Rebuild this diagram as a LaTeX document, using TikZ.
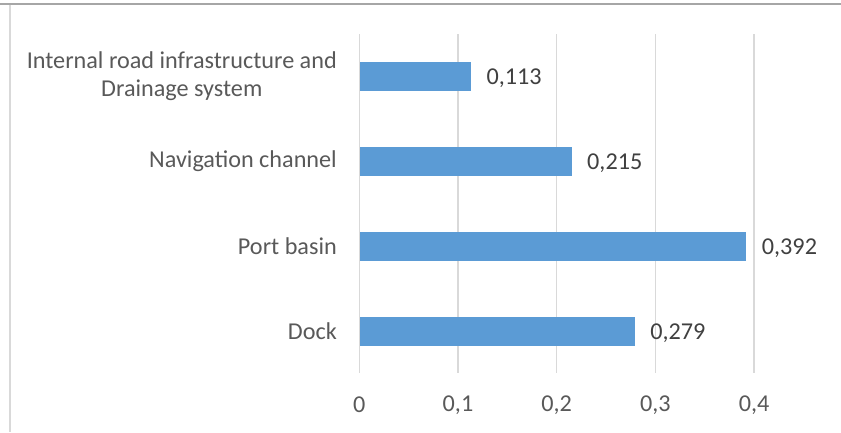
\documentclass[tikz,border=0pt]{standalone}
\usepackage{fontspec}
\setmainfont{Carlito}
\definecolor{barblue}{HTML}{5B9BD5}
\definecolor{gridgray}{HTML}{D9D9D9}
\definecolor{labgray}{HTML}{595959}
\definecolor{valgray}{HTML}{404040}
\definecolor{framegray}{HTML}{A6A6A6}
\begin{document}
\begin{tikzpicture}[x=1pt,y=-1pt,
  txt/.style={inner sep=0pt,font=\fontsize{24.2}{28}\selectfont},
  catlabel/.style={txt,text=labgray,anchor=east,align=center},
  vallabel/.style={txt,text=valgray,anchor=west},
  ticklabel/.style={txt,text=labgray,anchor=center},
  bar/.style={fill=barblue,draw=none},
  gridline/.style={draw=gridgray,line width=1.5pt}]
\useasboundingbox (0,0) rectangle (841,432);
% frame
\draw[framegray,line width=2pt] (0,3.5) -- (841,3.5);
\draw[gridgray,line width=2pt] (10,4.5) -- (10,432);
% gridlines and tick labels
\foreach \k/\t in {0/0,1/{0,1},2/{0,2},3/{0,3},4/{0,4}}{
  \coordinate (gt\k) at ({359.3+98.7*\k},34);
  \coordinate (gb\k) at ({359.3+98.7*\k},373);
  \draw[gridline] (gt\k) -- (gb\k);
  \node[ticklabel] (tick\k) at ({359.3+98.7*\k},405) {\t};
}
% bars
\foreach \n/\v/\y/\lab in {a/0.113/76.5/{0,113},b/0.215/161.5/{0,215},c/0.392/246.5/{0,392},d/0.279/331.5/{0,279}}{
  \fill[bar] (360,{\y-14.75}) rectangle ({359.3+987*\v},{\y+14.75});
  \node[vallabel] (val\n) at ({359.3+987*\v+15.5},{\y+1.5}) {\lab};
}
% category labels
\node[catlabel] (cata) at (337,76.5) {Internal road infrastructure and\\Drainage system};
\node[catlabel] (catb) at (337,161.5) {Navigation channel};
\node[catlabel] (catc) at (337,246.5) {Port basin};
\node[catlabel] (catd) at (337,331.5) {Dock};
\end{tikzpicture}
\end{document}
